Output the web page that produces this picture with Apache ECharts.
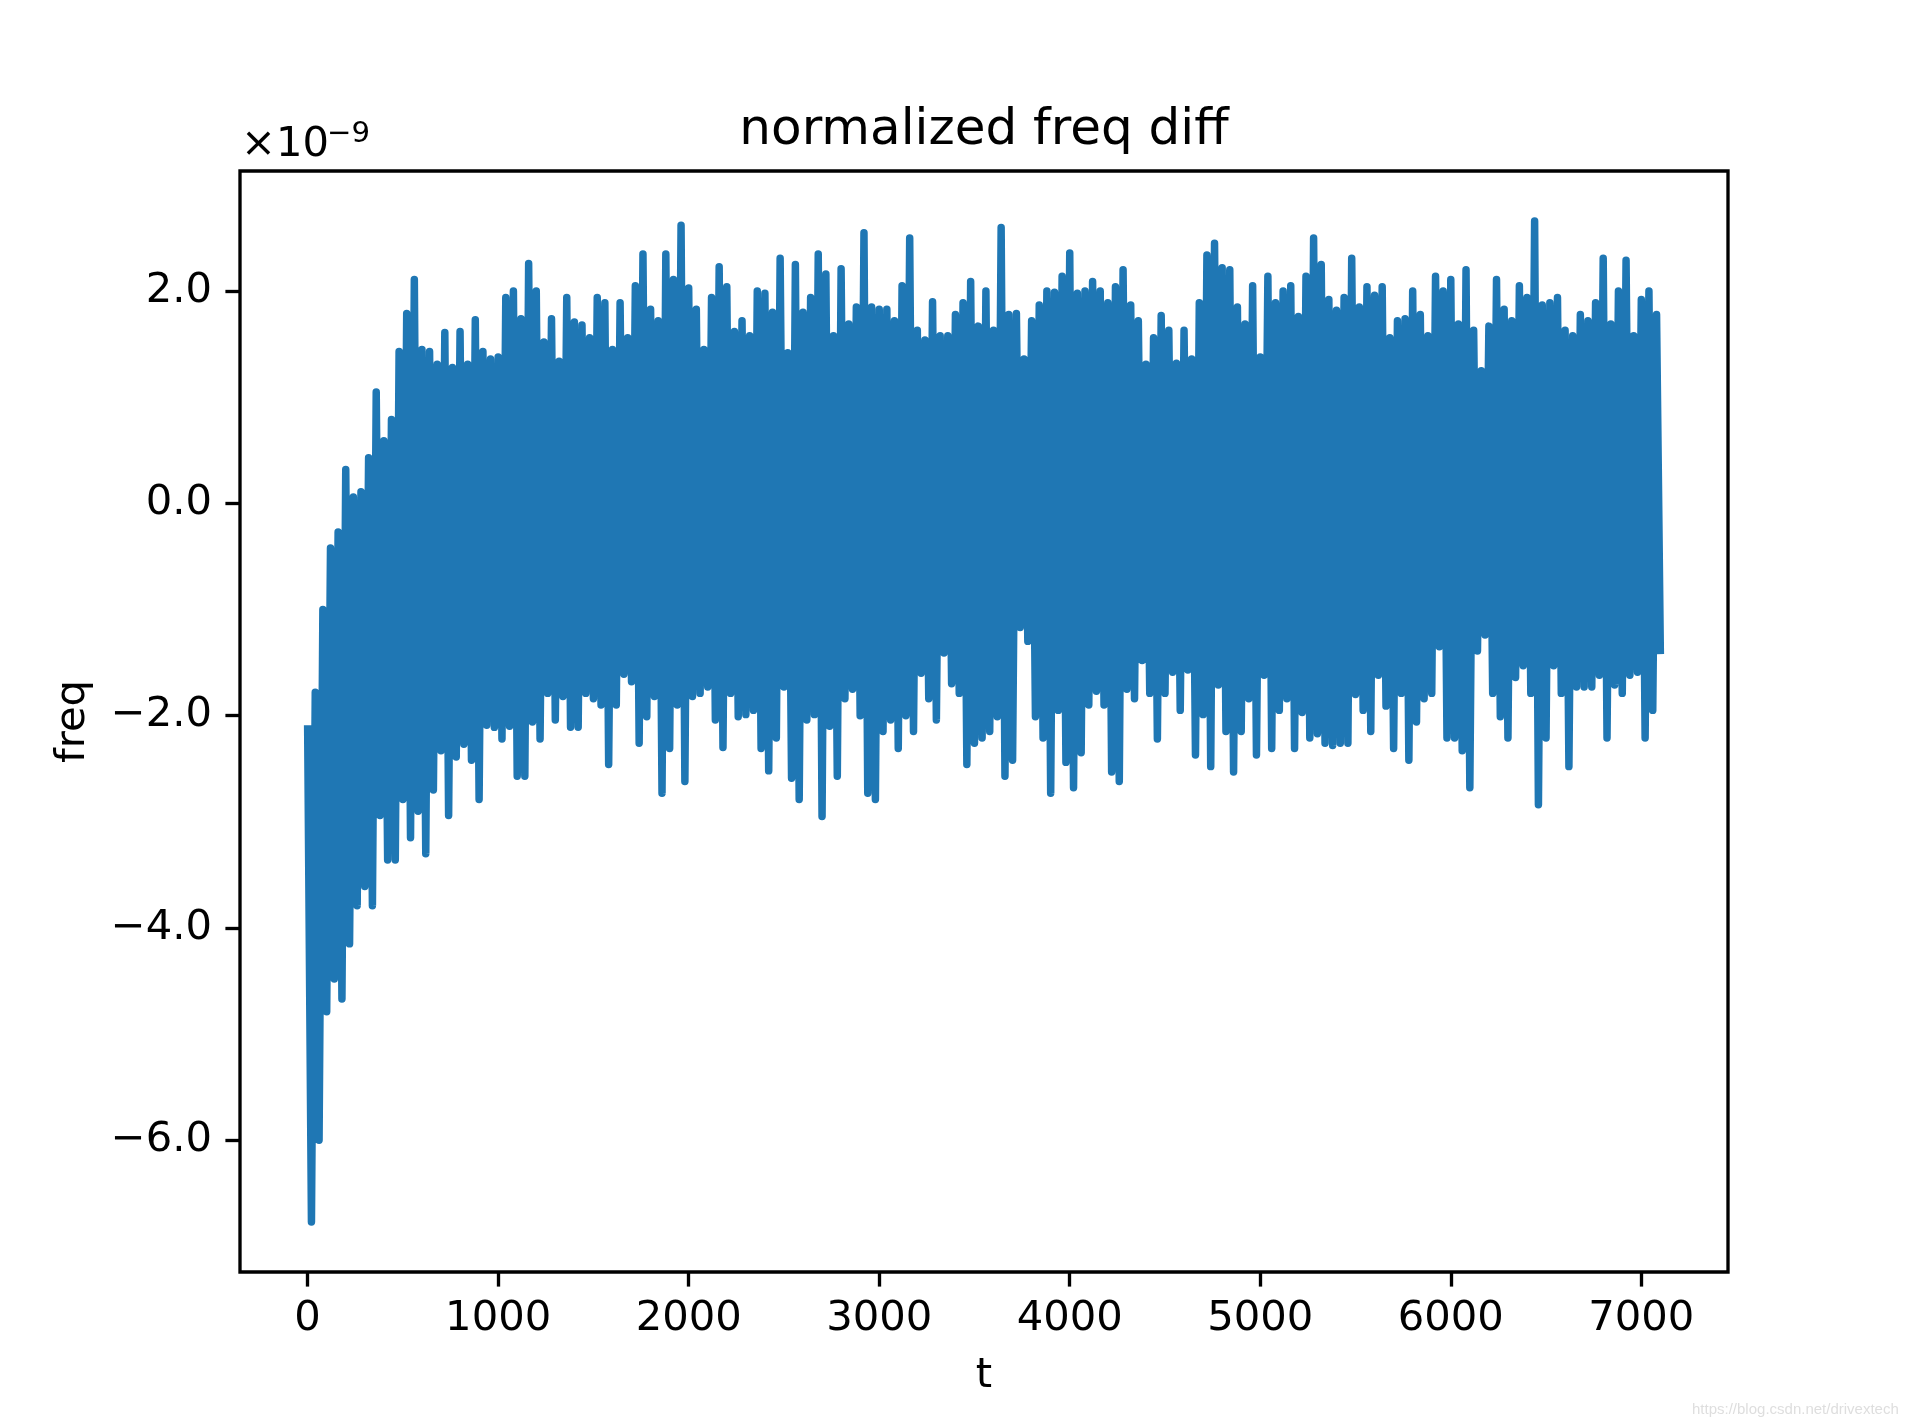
<!DOCTYPE html>
<html>
<head>
<meta charset="utf-8">
<script src="https://cdn.jsdelivr.net/npm/echarts@6/dist/echarts.min.js"></script>
<style>
html,body{margin:0;padding:0;background:#ffffff;}
#chart{width:1920px;height:1428px;}
</style>
</head>
<body>
<div id="chart"></div>
<script>
// ---- data (values in units of 1e-9) ----
const titleText = 'normalized freq diff';
const xLabel = 't';
const yLabel = 'freq';
const xTicks = [0, 1000, 2000, 3000, 4000, 5000, 6000, 7000];
const yTicks = [-6, -4, -2, 0, 2];
const sampleStep = 40; // each step holds one upper and one lower excursion

const freqHigh = [
  -2.09, -1.78, -1.0, -0.42, -0.27, 0.32, 0.06, 0.11, 0.43, 1.05, 0.59, 0.79, 1.43, 1.79, 2.11, 1.45, 1.43, 1.31, 1.61, 1.28, 1.62, 1.31, 1.73, 1.43,
  1.36, 1.38, 1.94, 2.0, 1.74, 2.26, 2.0, 1.52, 1.74, 1.34, 1.94, 1.71, 1.68, 1.56, 1.94, 1.89, 1.45, 1.89, 1.56, 2.05, 2.35, 1.83, 1.72, 2.35, 2.11, 2.62, 2.03, 1.83, 1.45, 1.94, 2.23, 2.04, 1.62,
  1.72, 1.58, 2.0, 1.98, 1.80, 2.31, 1.42, 2.25, 1.80, 1.94, 2.35, 2.16, 1.58, 2.21, 1.69, 1.85, 2.55, 1.85, 1.83, 1.83, 1.72, 2.05, 2.5, 1.63, 1.54, 1.90, 1.58, 1.58, 1.78, 1.89, 2.09, 1.67, 2.0,
  1.63, 2.6, 1.78, 1.79, 1.36, 1.72, 1.87, 2.0, 1.99, 2.14, 2.36, 1.98, 2.0, 2.09, 2.0, 1.89, 2.04, 2.20, 1.87, 1.72, 1.31, 1.56, 1.77, 1.63, 1.32, 1.63, 1.36, 1.89, 2.34, 2.45, 2.22, 2.20, 1.85,
  1.69, 2.05, 1.38, 2.14, 1.89, 2.0, 2.05, 1.76, 2.14, 2.5, 2.25, 1.92, 1.82, 1.94, 2.31, 1.85, 2.04, 1.96, 2.04, 1.56, 1.72, 1.74, 2.0, 1.78, 1.58, 2.14, 2.0, 2.11, 1.69, 2.20, 1.63, 1.25, 1.67,
  2.11, 1.83, 1.72, 2.05, 1.94, 2.66, 1.87, 1.89, 1.94, 1.63, 1.58, 1.78, 1.72, 1.89, 2.31, 1.69, 2.0, 2.29, 1.58, 1.92, 2.0, 1.78
];

const freqLow = [
  -6.77, -6.0, -4.79, -4.48, -4.67, -4.15, -3.79, -3.61, -3.79, -2.94, -3.36, -3.36, -2.79, -3.15, -2.9, -3.30, -2.70, -2.33, -2.94, -2.39, -2.27, -2.42, -2.79, -2.09,
  -2.11, -2.22, -2.10, -2.57, -2.57, -2.06, -2.22, -1.79, -2.04, -1.82, -2.11, -2.11, -1.79, -1.84, -1.90, -2.46, -1.90, -1.61, -1.68, -2.26, -2.01, -1.82, -2.73, -2.31, -1.9, -2.62, -1.82, -1.79, -1.73, -2.04, -2.30, -1.79, -2.01,
  -1.99, -1.95, -2.31, -2.52, -2.21, -1.73, -2.59, -2.79, -2.04, -1.99, -2.95, -2.10, -2.57, -1.84, -1.75, -2.0, -2.73, -2.79, -2.15, -2.04, -2.31, -2.0, -2.15, -1.6, -1.84, -2.04, -1.41, -1.7, -1.79, -2.46, -2.26, -2.21, -2.15,
  -2.01, -2.57, -2.42, -1.17, -1.30, -2.01, -2.21, -2.73, -1.95, -2.44, -2.68, -2.35, -1.90, -1.77, -1.90, -2.53, -2.62, -1.75, -1.84, -1.48, -1.79, -2.22, -1.79, -1.59, -1.95, -1.57, -2.37, -1.99, -2.48, -1.71, -2.15, -2.53, -2.15,
  -1.84, -2.37, -1.62, -2.31, -1.95, -1.84, -2.31, -1.97, -2.21, -2.17, -2.26, -2.28, -2.26, -2.26, -1.80, -1.95, -2.15, -1.62, -1.91, -2.31, -1.79, -2.42, -2.06, -1.84, -1.79, -1.35, -2.21, -2.21, -2.33, -2.68, -1.39, -1.24, -1.79,
  -2.01, -2.21, -1.64, -1.53, -1.79, -2.84, -2.21, -1.53, -1.79, -2.48, -1.73, -1.73, -1.73, -1.62, -2.21, -1.71, -1.79, -1.62, -1.59, -2.21, -1.95, -1.42
];

// ---- build series points (sample index t, value) ----
const seriesData = [];
for (let i = 0; i < freqHigh.length; i++) {
  seriesData.push([i * sampleStep, freqHigh[i]]);
  seriesData.push([i * sampleStep + sampleStep / 2, freqLow[i]]);
}

// axis extents with 5% margins like matplotlib
const tMax = seriesData[seriesData.length - 1][0];
const vMin = Math.min.apply(null, freqLow), vMax = Math.max.apply(null, freqHigh);
const xPad = tMax * 0.05, yPad = (vMax - vMin) * 0.05;

const FONT = 'DejaVu Sans';
const FS = 41.7;
const minus = '\u2212';

const chart = echarts.init(document.getElementById('chart'), null, {renderer: 'canvas'});
chart.setOption({
  animation: false,
  backgroundColor: '#ffffff',
  grid: {
    left: 240, right: 192, top: 171, bottom: 156,
    show: true, borderColor: '#000000', borderWidth: 3.33, backgroundColor: 'transparent', z: 10
  },
  xAxis: {
    type: 'value',
    min: -xPad, max: tMax + xPad,
    axisLine: {show: false, onZero: false},
    axisTick: {show: true, length: 14.6, inside: false, customValues: xTicks, lineStyle: {color: '#000', width: 3.33}},
    axisLabel: {show: true, customValues: xTicks, margin: 26, color: '#000', fontFamily: FONT, fontSize: FS,
      formatter: v => String(v)},
    splitLine: {show: false}
  },
  yAxis: {
    type: 'value',
    min: vMin - yPad, max: vMax + yPad,
    axisLine: {show: false, onZero: false},
    axisTick: {show: true, length: 14.6, inside: false, customValues: yTicks, lineStyle: {color: '#000', width: 3.33}},
    axisLabel: {show: true, customValues: yTicks, margin: 28, color: '#000', fontFamily: FONT, fontSize: FS,
      padding: [3, 0, 0, 0],
      formatter: v => (v < 0 ? minus : '') + Math.abs(v).toFixed(1)},
    splitLine: {show: false}
  },
  series: [{
    type: 'line',
    data: seriesData,
    showSymbol: false,
    symbol: 'none',
    clip: true,
    lineStyle: {color: '#1f77b4', width: 7.5, join: 'round', cap: 'butt'},
    emphasis: {disabled: true},
    z: 2
  }],
  graphic: [
    {type: 'text', x: 984, y: 131.5, style: {text: titleText, fontFamily: FONT, fontSize: 50, fill: '#000',
      align: 'center', verticalAlign: 'middle', textAlign: 'center', textVerticalAlign: 'middle'}},
    {type: 'text', x: 241, y: 145.3, style: {text: '\u00d710', fontFamily: FONT, fontSize: FS, fill: '#000',
      align: 'left', verticalAlign: 'middle', textAlign: 'left', textVerticalAlign: 'middle'}},
    {type: 'text', x: 327, y: 134.6, style: {text: minus + '9', fontFamily: FONT, fontSize: 29.2, fill: '#000',
      align: 'left', verticalAlign: 'middle', textAlign: 'left', textVerticalAlign: 'middle'}},
    {type: 'text', x: 984, y: 1376.5, style: {text: xLabel, fontFamily: FONT, fontSize: FS, fill: '#000',
      align: 'center', verticalAlign: 'middle', textAlign: 'center', textVerticalAlign: 'middle'}},
    {type: 'text', x: 73, y: 721.5, rotation: Math.PI / 2, style: {text: yLabel, fontFamily: FONT, fontSize: FS, fill: '#000',
      align: 'center', verticalAlign: 'middle', textAlign: 'center', textVerticalAlign: 'middle'}},
    {type: 'text', x: 1692, y: 1409.8, style: {text: 'https://blog.csdn.net/drivextech', fontFamily: 'Liberation Sans', fontSize: 15, fill: '#dedede',
      align: 'left', verticalAlign: 'middle', textAlign: 'left', textVerticalAlign: 'middle'}}
  ]
});
</script>
</body>
</html>
